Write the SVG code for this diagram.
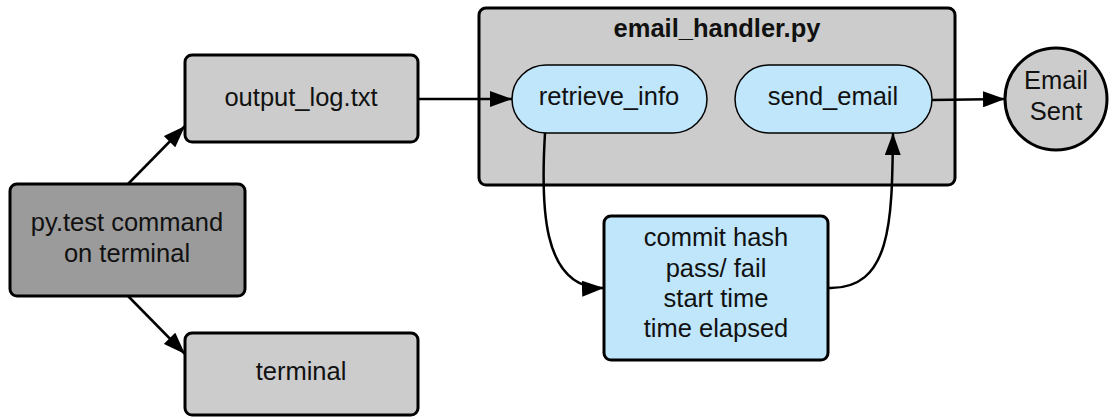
<svg xmlns="http://www.w3.org/2000/svg" width="1109" height="417" viewBox="0 0 1109 417">
<style>
.box{stroke:#000;stroke-width:3}
.gray{fill:#cccccc}
.dark{fill:#9b9b9b}
.blue{fill:#bfe6fb}
.pill{fill:#bfe6fb;stroke:#000;stroke-width:1.5}
text{font-family:"Liberation Sans",Arial,sans-serif;font-size:25.5px;fill:#111;text-anchor:middle}
.title{font-weight:bold;font-size:25.5px}
.edge{fill:none;stroke:#000;stroke-width:2.5}
</style>
<defs>
<marker id="ahL" markerWidth="22" markerHeight="16" refX="22" refY="8" orient="auto" markerUnits="userSpaceOnUse" viewBox="0 0 22 16">
<path d="M0,0 L22,8 L0,16 z" fill="#000"/>
</marker>
</defs>
<g id="email_handler">
<rect class="box gray" x="479" y="8" width="476" height="177" rx="7"/>
<text class="title" x="717" y="37">email_handler.py</text>
</g>
<g id="pytest">
<rect class="box dark" x="10" y="184" width="235" height="112" rx="7"/>
<text x="127" y="231">py.test command</text>
<text x="127" y="262">on terminal</text>
</g>
<g id="output_log">
<rect class="box gray" x="185" y="55" width="233" height="87" rx="7"/>
<text x="301" y="106">output_log.txt</text>
</g>
<g id="terminal">
<rect class="box gray" x="185" y="333" width="233" height="82" rx="7"/>
<text x="301" y="380">terminal</text>
</g>
<g id="retrieve_info">
<rect class="pill" x="512" y="65" width="195" height="68" rx="34"/>
<text x="609" y="105">retrieve_info</text>
</g>
<g id="send_email">
<rect class="pill" x="735" y="65" width="197" height="68" rx="34"/>
<text x="833" y="105">send_email</text>
</g>
<g id="email_sent">
<circle cx="1056" cy="99" r="51" fill="#cccccc" stroke="#000" stroke-width="3"/>
<text x="1056" y="89">Email</text>
<text x="1056" y="120">Sent</text>
</g>
<g id="info">
<rect class="box blue" x="604" y="216" width="224" height="144" rx="7"/>
<text x="716" y="246">commit hash</text>
<text x="716" y="277">pass/ fail</text>
<text x="716" y="307">start time</text>
<text x="716" y="337">time elapsed</text>
</g>
<g id="connectors">
<path class="edge" d="M128,184 L185,126" marker-end="url(#ahL)"/>
<path class="edge" d="M128,296 L185,354" marker-end="url(#ahL)"/>
<path class="edge" d="M418,99 L512,99" marker-end="url(#ahL)"/>
<path class="edge" d="M932,100 L1005,99" marker-end="url(#ahL)"/>
<path class="edge" d="M545,133 C541,200 540,290 604,288" marker-end="url(#ahL)"/>
<path class="edge" d="M828,288 C892,290 892,220 893,133" marker-end="url(#ahL)"/>
</g>
</svg>
